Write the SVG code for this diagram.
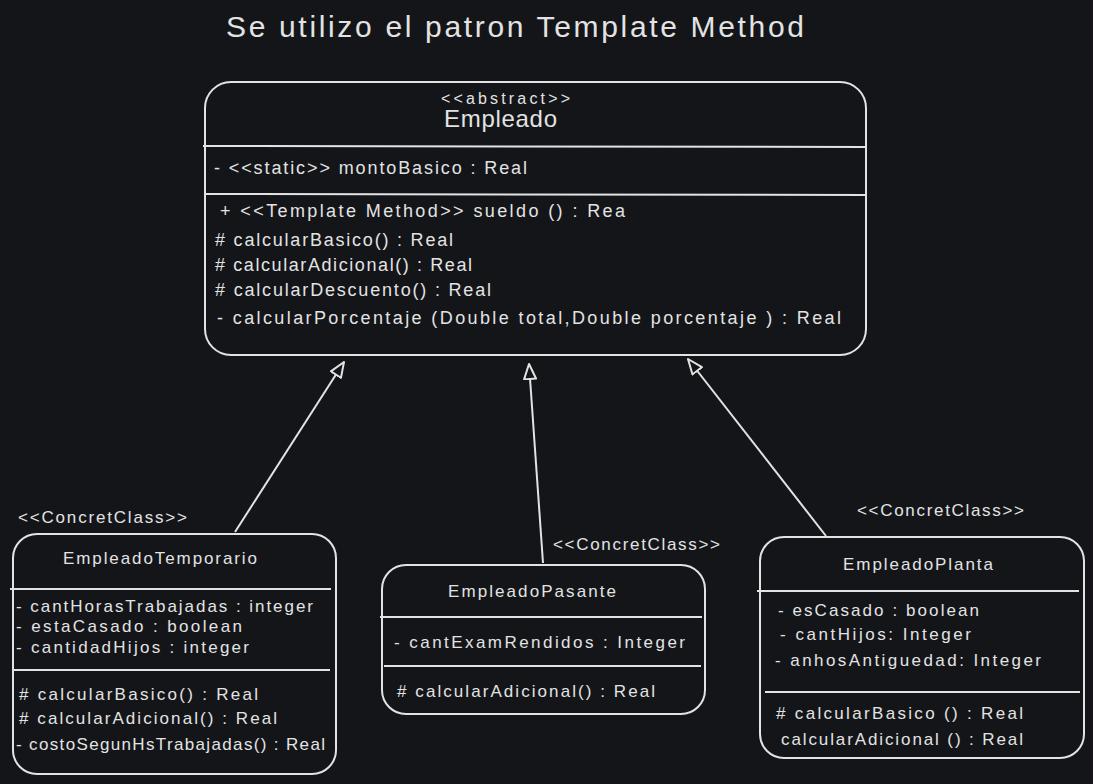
<svg xmlns="http://www.w3.org/2000/svg" width="1093" height="784" viewBox="0 0 1093 784">
<defs>
<style>
text{font-family:"Liberation Sans","Open Sans",sans-serif;fill:#e3e3e3;}
.box{fill:#131519;stroke:#e3e3e3;stroke-width:2;}
.div{stroke:#e3e3e3;stroke-width:2;fill:none;}
.conn{stroke:#e3e3e3;stroke-width:2;fill:none;}
.t{font-size:18px;}
.s{font-size:17px;}
</style>
<marker id="tri" markerUnits="userSpaceOnUse" markerWidth="20" markerHeight="20" refX="16" refY="7" orient="auto">
<path d="M1,1 L16,7 L1,13 Z" fill="#131519" stroke="#e3e3e3" stroke-width="2" stroke-linejoin="round"/>
</marker>
</defs>
<rect width="1093" height="784" fill="#131519"/>
<text x="226" y="37" font-size="30" textLength="578">Se utilizo el patron Template Method</text>

<g id="connectors">
<line class="conn" x1="235" y1="532" x2="344" y2="362" marker-end="url(#tri)"/>
<line class="conn" x1="543" y1="563" x2="529" y2="364" marker-end="url(#tri)"/>
<line class="conn" x1="826" y1="536" x2="688" y2="359" marker-end="url(#tri)"/>
</g>

<g id="Empleado">
<rect class="box" x="205" y="82" width="661" height="273" rx="26"/>
<line class="div" x1="203" y1="146" x2="866" y2="147"/>
<line class="div" x1="206" y1="194" x2="866" y2="195"/>
<text x="441" y="104" font-size="16" textLength="129">&lt;&lt;abstract&gt;&gt;</text>
<text x="444" y="127" font-size="24" textLength="113">Empleado</text>
<text class="t" x="214" y="174" textLength="313">- &lt;&lt;static&gt;&gt; montoBasico : Real</text>
<text class="t" x="220" y="217" textLength="405">+ &lt;&lt;Template Method&gt;&gt; sueldo () : Rea</text>
<text class="t" x="215" y="246" textLength="238"># calcularBasico() : Real</text>
<text class="t" x="215" y="271" textLength="257"># calcularAdicional() : Real</text>
<text class="t" x="215" y="296" textLength="276"># calcularDescuento() : Real</text>
<text class="t" x="217" y="324" textLength="624">- calcularPorcentaje (Double total,Double porcentaje ) : Real</text>
</g>

<g id="EmpleadoTemporario">
<text class="s" x="18" y="523" textLength="169">&lt;&lt;ConcretClass&gt;&gt;</text>
<rect class="box" x="13" y="534" width="323" height="240" rx="24"/>
<line class="div" x1="10" y1="589" x2="331" y2="589"/>
<line class="div" x1="14" y1="670" x2="330" y2="670"/>
<text class="s" x="63" y="564" textLength="194">EmpleadoTemporario</text>
<text class="s" x="16" y="612" textLength="297">- cantHorasTrabajadas : integer</text>
<text class="s" x="16" y="632" textLength="226">- estaCasado : boolean</text>
<text class="s" x="16" y="653" textLength="233">- cantidadHijos : integer</text>
<text class="s" x="19" y="700" textLength="239"># calcularBasico() : Real</text>
<text class="s" x="19" y="724" textLength="258"># calcularAdicional() : Real</text>
<text class="s" x="16" y="750" textLength="309">- costoSegunHsTrabajadas() : Real</text>
</g>

<g id="EmpleadoPasante">
<text class="s" x="553" y="550" textLength="167">&lt;&lt;ConcretClass&gt;&gt;</text>
<rect class="box" x="382" y="565" width="323" height="149" rx="24"/>
<line class="div" x1="380" y1="617" x2="702" y2="617"/>
<line class="div" x1="384" y1="666" x2="701" y2="666"/>
<text class="s" x="448" y="597" textLength="168">EmpleadoPasante</text>
<text class="s" x="394" y="648" textLength="291">- cantExamRendidos : Integer</text>
<text class="s" x="397" y="697" textLength="258"># calcularAdicional() : Real</text>
</g>

<g id="EmpleadoPlanta">
<text class="s" x="857" y="516" textLength="167">&lt;&lt;ConcretClass&gt;&gt;</text>
<rect class="box" x="760" y="537" width="324" height="221" rx="24"/>
<line class="div" x1="757" y1="591" x2="1079" y2="591"/>
<line class="div" x1="765" y1="692" x2="1080" y2="692"/>
<text class="s" x="843" y="570" textLength="150">EmpleadoPlanta</text>
<text class="s" x="778" y="616" textLength="201">- esCasado : boolean</text>
<text class="s" x="780" y="640" textLength="191">- cantHijos: Integer</text>
<text class="s" x="775" y="666" textLength="266">- anhosAntiguedad: Integer</text>
<text class="s" x="776" y="719" textLength="247"># calcularBasico () : Real</text>
<text class="s" x="781" y="745" textLength="242">calcularAdicional () : Real</text>
</g>
</svg>
